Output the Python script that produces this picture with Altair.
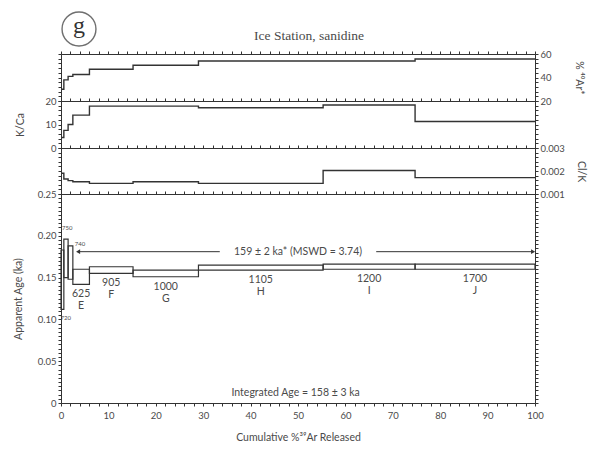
import altair as alt
import pandas as pd

# ---------------- data ----------------
step_start = [0.0, 0.6, 1.5, 2.5, 6.0, 15.2, 29.0, 55.3, 74.7]
step_end = [0.6, 1.5, 2.5, 6.0, 15.2, 29.0, 55.3, 74.7, 100.0]
age_low = [0.112, 0.150, 0.148, 0.142, 0.155, 0.151, 0.159, 0.160, 0.160]
age_high = [0.183, 0.196, 0.188, 0.160, 0.163, 0.159, 0.165, 0.166, 0.166]
rad_ar40 = [30.0, 38.0, 41.0, 42.6, 47.0, 50.4, 54.0, 54.0, 55.7]
k_ca = [4.5, 7.5, 10.0, 14.0, 17.8, 17.8, 17.1, 18.3, 11.3]
cl_k = [0.00190, 0.00165, 0.00158, 0.00153, 0.00146, 0.00153, 0.00146, 0.00202, 0.00171]

step_temps = ["625", "905", "1000", "1105", "1200", "1700"]
step_letters = ["E", "F", "G", "H", "I", "J"]
early_temps = ["720", "750", "740"]
early_x = [1.0, 1.3, 4.0]
early_age = [0.102, 0.209, 0.190]

plateau_from, plateau_to, plateau_age = 3.6, 99.6, 0.181
plateau_gap = [33.5, 66.5]
plateau_text = "159 \u00b1 2 ka* (MSWD = 3.74)"
integrated_text = "Integrated Age = 158 \u00b1 3 ka"
integrated_x, integrated_age = 49.5, 0.012

title_text = "Ice Station, sanidine"
panel_tag = "g"

# ---------------- styling ----------------
INK = "#333333"
TXT = "#4a4a4a"
FONT = "Lato"
SERIF = "Liberation Serif"
W = 474
TC = 500  # large tickCount so explicit tick values are not subsampled


def tick_values(lo, hi, step):
    n = int(round((hi - lo) / step))
    return [round(lo + i * step, 6) for i in range(n + 1)]


xs = alt.Scale(domain=[0, 100], nice=False, zero=False)
x_top_axis = alt.Axis(orient="top", values=tick_values(0, 100, 2), tickCount=TC, labels=False,
                      title=None, tickSize=3, domain=False, grid=False)

line_df = pd.DataFrame({
    "x": step_start + [step_end[-1]],
    "rad": rad_ar40 + [rad_ar40[-1]],
    "kca": k_ca + [k_ca[-1]],
    "clk": cl_k + [cl_k[-1]],
})


def step_panel(field, domain, height, left_axis, right_axis, extra=None):
    ys = alt.Scale(domain=domain, nice=False, zero=False)
    base = alt.Chart(line_df)
    line = base.mark_line(interpolate="step-after", color=INK, strokeWidth=1.4).encode(
        x=alt.X("x:Q", scale=xs, axis=None),
        y=alt.Y(f"{field}:Q", scale=ys, axis=left_axis),
    )
    inner = line if extra is None else alt.layer(line, *extra)
    ax = base.mark_line(opacity=0).encode(
        x=alt.X("x:Q", scale=xs, axis=x_top_axis),
        y=alt.Y(f"{field}:Q", scale=ys, axis=right_axis),
    )
    return alt.layer(inner, ax).resolve_scale(x="independent", y="independent").properties(
        width=W, height=height)


one = pd.DataFrame({"k": [0]})
circle = alt.Chart(one).mark_point(shape="circle", size=1150, filled=False, color=INK,
                                    strokeWidth=1.4).encode(x=alt.value(18), y=alt.value(-25))
gtext = alt.Chart(one).mark_text(text=panel_tag, font=SERIF, fontSize=24, color=INK,
                                 baseline="middle").encode(x=alt.value(18), y=alt.value(-28))
ttext = alt.Chart(one).mark_text(text=title_text, font=SERIF, fontSize=13.5, color=TXT,
                                 baseline="middle").encode(x=alt.value(248), y=alt.value(-18))

# panel 1: %40Ar*
p1 = step_panel(
    "rad", [20, 60], 47,
    alt.Axis(values=tick_values(20, 60, 4), tickCount=TC, labels=False, title=None, tickSize=3,
             domain=False),
    alt.Axis(orient="right", values=tick_values(20, 60, 4), tickCount=TC, labelOverlap=False,
             format="d", labelExpr="datum.value % 20 === 0 ? datum.label : ''",
             title="% \u2074\u2070Ar*", titleX=43, titleBaseline="middle", tickSize=3, domain=False),
    extra=[circle, gtext, ttext],
)

# panel 2: K/Ca
p2 = step_panel(
    "kca", [0, 20], 47,
    alt.Axis(values=tick_values(0, 20, 2), tickCount=TC, labelOverlap=False, format="d",
             labelExpr="datum.value % 10 === 0 ? datum.label : ''",
             title="K/Ca", titleX=-41, titleBaseline="middle", tickSize=3, domain=False),
    alt.Axis(orient="right", values=tick_values(0, 20, 2), tickCount=TC, labels=False, title=None,
             tickSize=3, domain=False),
)

# panel 3: Cl/K
p3 = step_panel(
    "clk", [0.001, 0.003], 46,
    alt.Axis(values=tick_values(0.001, 0.003, 0.0002), tickCount=TC, labels=False, title=None,
             tickSize=3, domain=False),
    alt.Axis(orient="right", values=tick_values(0.001, 0.003, 0.0002), tickCount=TC,
             labelOverlap=False,
             labelExpr="abs(datum.value*1000 - round(datum.value*1000)) < 0.001 ? format(datum.value, '.3f') : ''",
             title="Cl/K", titleX=45, titleBaseline="middle", tickSize=3, domain=False),
)

# panel 4: age spectrum
ya = alt.Scale(domain=[0, 0.25], nice=False, zero=False)
ages = pd.DataFrame({"start": step_start, "end": step_end, "lo": age_low, "hi": age_high})

x_bottom_axis = alt.Axis(values=tick_values(0, 100, 2), tickCount=TC, labelOverlap=False,
                         labelFlush=False, format="d", labelPadding=4,
                         labelExpr="datum.value % 10 === 0 ? datum.label : ''",
                         title="Cumulative %\u00b3\u2079Ar Released", titlePadding=13,
                         tickSize=3, domain=False)
age_left_axis = alt.Axis(values=tick_values(0, 0.25, 0.005), tickCount=TC, labelOverlap=False,
                         labelExpr="abs(datum.value*20 - round(datum.value*20)) < 0.001 ? (datum.value === 0 ? '0' : format(datum.value, '.2f')) : ''",
                         title="Apparent Age (ka)", titleX=-43, titleBaseline="middle",
                         tickSize=3, domain=False)
age_right_axis = alt.Axis(orient="right", values=tick_values(0, 0.25, 0.005), tickCount=TC,
                          labels=False, title=None, tickSize=3, domain=False)

boxes = alt.Chart(ages).mark_rect(fill="white", fillOpacity=0, stroke=INK, strokeWidth=1.2).encode(
    x=alt.X("start:Q", scale=xs, axis=x_bottom_axis),
    x2="end:Q",
    y=alt.Y("lo:Q", scale=ya, axis=age_left_axis),
    y2="hi:Q",
)

lab_df = pd.DataFrame({
    "x": [(s + e) / 2 for s, e in zip(step_start[3:], step_end[3:])],
    "lo": age_low[3:],
    "temp": step_temps,
    "letter": step_letters,
})
temps = alt.Chart(lab_df).mark_text(baseline="top", dy=5, fontSize=10.5, font=FONT, color=TXT).encode(
    x=alt.X("x:Q", scale=xs), y=alt.Y("lo:Q", scale=ya), text="temp:N")
letters = alt.Chart(lab_df).mark_text(baseline="top", dy=17, fontSize=10.5, font=FONT, color=TXT).encode(
    x=alt.X("x:Q", scale=xs), y=alt.Y("lo:Q", scale=ya), text="letter:N")

early_df = pd.DataFrame({"x": early_x, "age": early_age, "t": early_temps})
early = alt.Chart(early_df).mark_text(fontSize=6, font=FONT, color=TXT).encode(
    x=alt.X("x:Q", scale=xs), y=alt.Y("age:Q", scale=ya), text="t:N")

seg_df = pd.DataFrame({"a": [plateau_from, plateau_gap[1]], "b": [plateau_gap[0], plateau_to],
                       "y": [plateau_age, plateau_age]})
plateau_lines = alt.Chart(seg_df).mark_rule(color=INK, strokeWidth=1).encode(
    x=alt.X("a:Q", scale=xs), x2="b:Q", y=alt.Y("y:Q", scale=ya))
arrow_l = alt.Chart(pd.DataFrame({"x": [plateau_from], "y": [plateau_age]})).mark_point(
    shape="triangle-left", filled=True, size=22, color=INK, opacity=1).encode(
    x=alt.X("x:Q", scale=xs), y=alt.Y("y:Q", scale=ya))
arrow_r = alt.Chart(pd.DataFrame({"x": [plateau_to], "y": [plateau_age]})).mark_point(
    shape="triangle-right", filled=True, size=22, color=INK, opacity=1).encode(
    x=alt.X("x:Q", scale=xs), y=alt.Y("y:Q", scale=ya))
ptext = alt.Chart(pd.DataFrame({"x": [sum(plateau_gap) / 2], "y": [plateau_age], "t": [plateau_text]})).mark_text(
    fontSize=10.5, font=FONT, color=TXT, baseline="middle").encode(
    x=alt.X("x:Q", scale=xs), y=alt.Y("y:Q", scale=ya), text="t:N")
itext = alt.Chart(pd.DataFrame({"x": [integrated_x], "y": [integrated_age], "t": [integrated_text]})).mark_text(
    fontSize=10.5, font=FONT, color=TXT, baseline="middle").encode(
    x=alt.X("x:Q", scale=xs), y=alt.Y("y:Q", scale=ya), text="t:N")

age_axes = alt.Chart(ages).mark_rect(opacity=0).encode(
    x=alt.X("start:Q", scale=xs, axis=x_top_axis), x2="end:Q",
    y=alt.Y("lo:Q", scale=ya, axis=age_right_axis), y2="hi:Q")

age_inner = alt.layer(boxes, plateau_lines, arrow_l, arrow_r, ptext, itext, temps, letters, early)
p4 = alt.layer(age_inner, age_axes).resolve_scale(x="independent", y="independent").properties(
    width=W, height=209)

chart = alt.vconcat(p1, p2, p3, p4, spacing=0, bounds="flush").properties(
    padding={"left": 12, "top": 8, "right": 5, "bottom": 5}
).configure_view(stroke=INK, strokeWidth=1).configure_axis(
    labelFont=FONT, labelFontSize=9.5, labelColor=TXT, labelPadding=2,
    tickColor=INK, tickWidth=1, titleFont=FONT, titleFontSize=10.5, titleColor=TXT,
    titleFontWeight="normal", grid=False, domainColor=INK,
)

chart.save("out.html", embed_options={"renderer": "svg", "actions": False})
